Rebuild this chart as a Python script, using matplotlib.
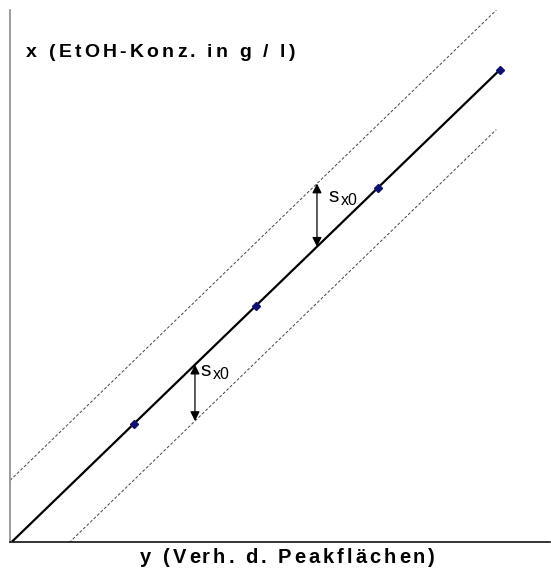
import matplotlib
matplotlib.use("Agg")
import matplotlib.pyplot as plt
import numpy as np

# Calibration points: peak-area ratio (horizontal) vs. ethanol concentration (vertical)
peak_ratio = [1.0, 2.0, 3.0, 4.0]
conc = [1.0, 2.0, 3.0, 4.0]

# Regression line and s_x0 confidence band offsets
slope = 1.0
intercept = 0.0
band_upper = 0.535
band_lower = -0.477
band_end = 3.97

# Positions of the s_x0 arrows along the horizontal axis
arrow_upper_at = 2.5
arrow_lower_at = 1.5

x_title = "x (EtOH-Konz. in g / l)"
y_title = "y (Verh. d. Peakflächen)"

plt.rcParams["font.family"] = ["Liberation Sans", "DejaVu Sans"]

W, H = 551, 572
fig = plt.figure(figsize=(W / 100, H / 100), dpi=100)
ax = fig.add_axes([10 / W, 1 - 541.7 / H, 540 / W, (541.7 - 10) / H])
ax.set_xlim(-0.016, 4.41)
ax.set_ylim(0, 4.506)

for side in ("top", "right"):
    ax.spines[side].set_visible(False)
ax.spines["left"].set_color("#8a8a8a")
ax.spines["left"].set_linewidth(1.2)
ax.spines["bottom"].set_color("#111111")
ax.spines["bottom"].set_linewidth(1.2)
ax.set_xticks([])
ax.set_yticks([])

# Regression line through the calibration points
xr = np.array([0.0, max(peak_ratio)])
ax.plot(xr, slope * xr + intercept, color="black", lw=1.6, solid_capstyle="butt", zorder=3)

# Confidence band (dashed)
xb = np.array([-0.016, band_end])
for off in (band_upper, band_lower):
    ax.plot(xb, slope * xb + intercept + off, color="#444444", lw=0.7,
            linestyle=(0, (3, 2)), zorder=2)

# Calibration points
ax.plot(peak_ratio, conc, linestyle="none", marker="D", markersize=4,
        color="#101070", zorder=4)

# s_x0 arrows
def sx0_arrow(xpos, y0, y1):
    ax.annotate("", xy=(xpos, y1), xytext=(xpos, y0),
                arrowprops=dict(arrowstyle="<|-|>", color="black", lw=0.9,
                                mutation_scale=14, shrinkA=0, shrinkB=0))

line_u = slope * arrow_upper_at + intercept
sx0_arrow(arrow_upper_at, line_u, line_u + band_upper)
line_l = slope * arrow_lower_at + intercept
sx0_arrow(arrow_lower_at, line_l, line_l + band_lower)

def sx0_label(xd, yd):
    ax.text(xd, yd, "s", fontsize=15, ha="left", va="baseline", color="black")
    ax.annotate("x0", xy=(xd, yd), xytext=(9.4, -2.0), textcoords="offset points",
                fontsize=11.5, ha="left", va="baseline", color="black")

sx0_label(2.59, 2.875)
sx0_label(1.541, 1.401)

# Axis titles with widened letter spacing
renderer = fig.canvas.get_renderer()

def text_width(s, **kw):
    t1 = fig.text(0, 0, s + "|", **kw)
    w1 = t1.get_window_extent(renderer).width
    t1.remove()
    t2 = fig.text(0, 0, "|", **kw)
    w2 = t2.get_window_extent(renderer).width
    t2.remove()
    return w1 - w2

def spaced_text(x0_px, base_px, s, span_px, **kw):
    natural = text_width(s, **kw)
    track = (span_px - natural) / (len(s) - 1)
    for i, ch in enumerate(s):
        if ch == " ":
            continue
        xp = x0_px + text_width(s[:i], **kw) + track * i
        fig.text(xp / W, 1 - base_px / H, ch, ha="left", va="baseline", **kw)

title_font = dict(family="Liberation Sans", fontweight="bold")
spaced_text(26, 57, x_title, 269, fontsize=14, **title_font)
spaced_text(140, 563, y_title, 295, fontsize=14.5, **title_font)

fig.savefig("out.png", dpi=100)
